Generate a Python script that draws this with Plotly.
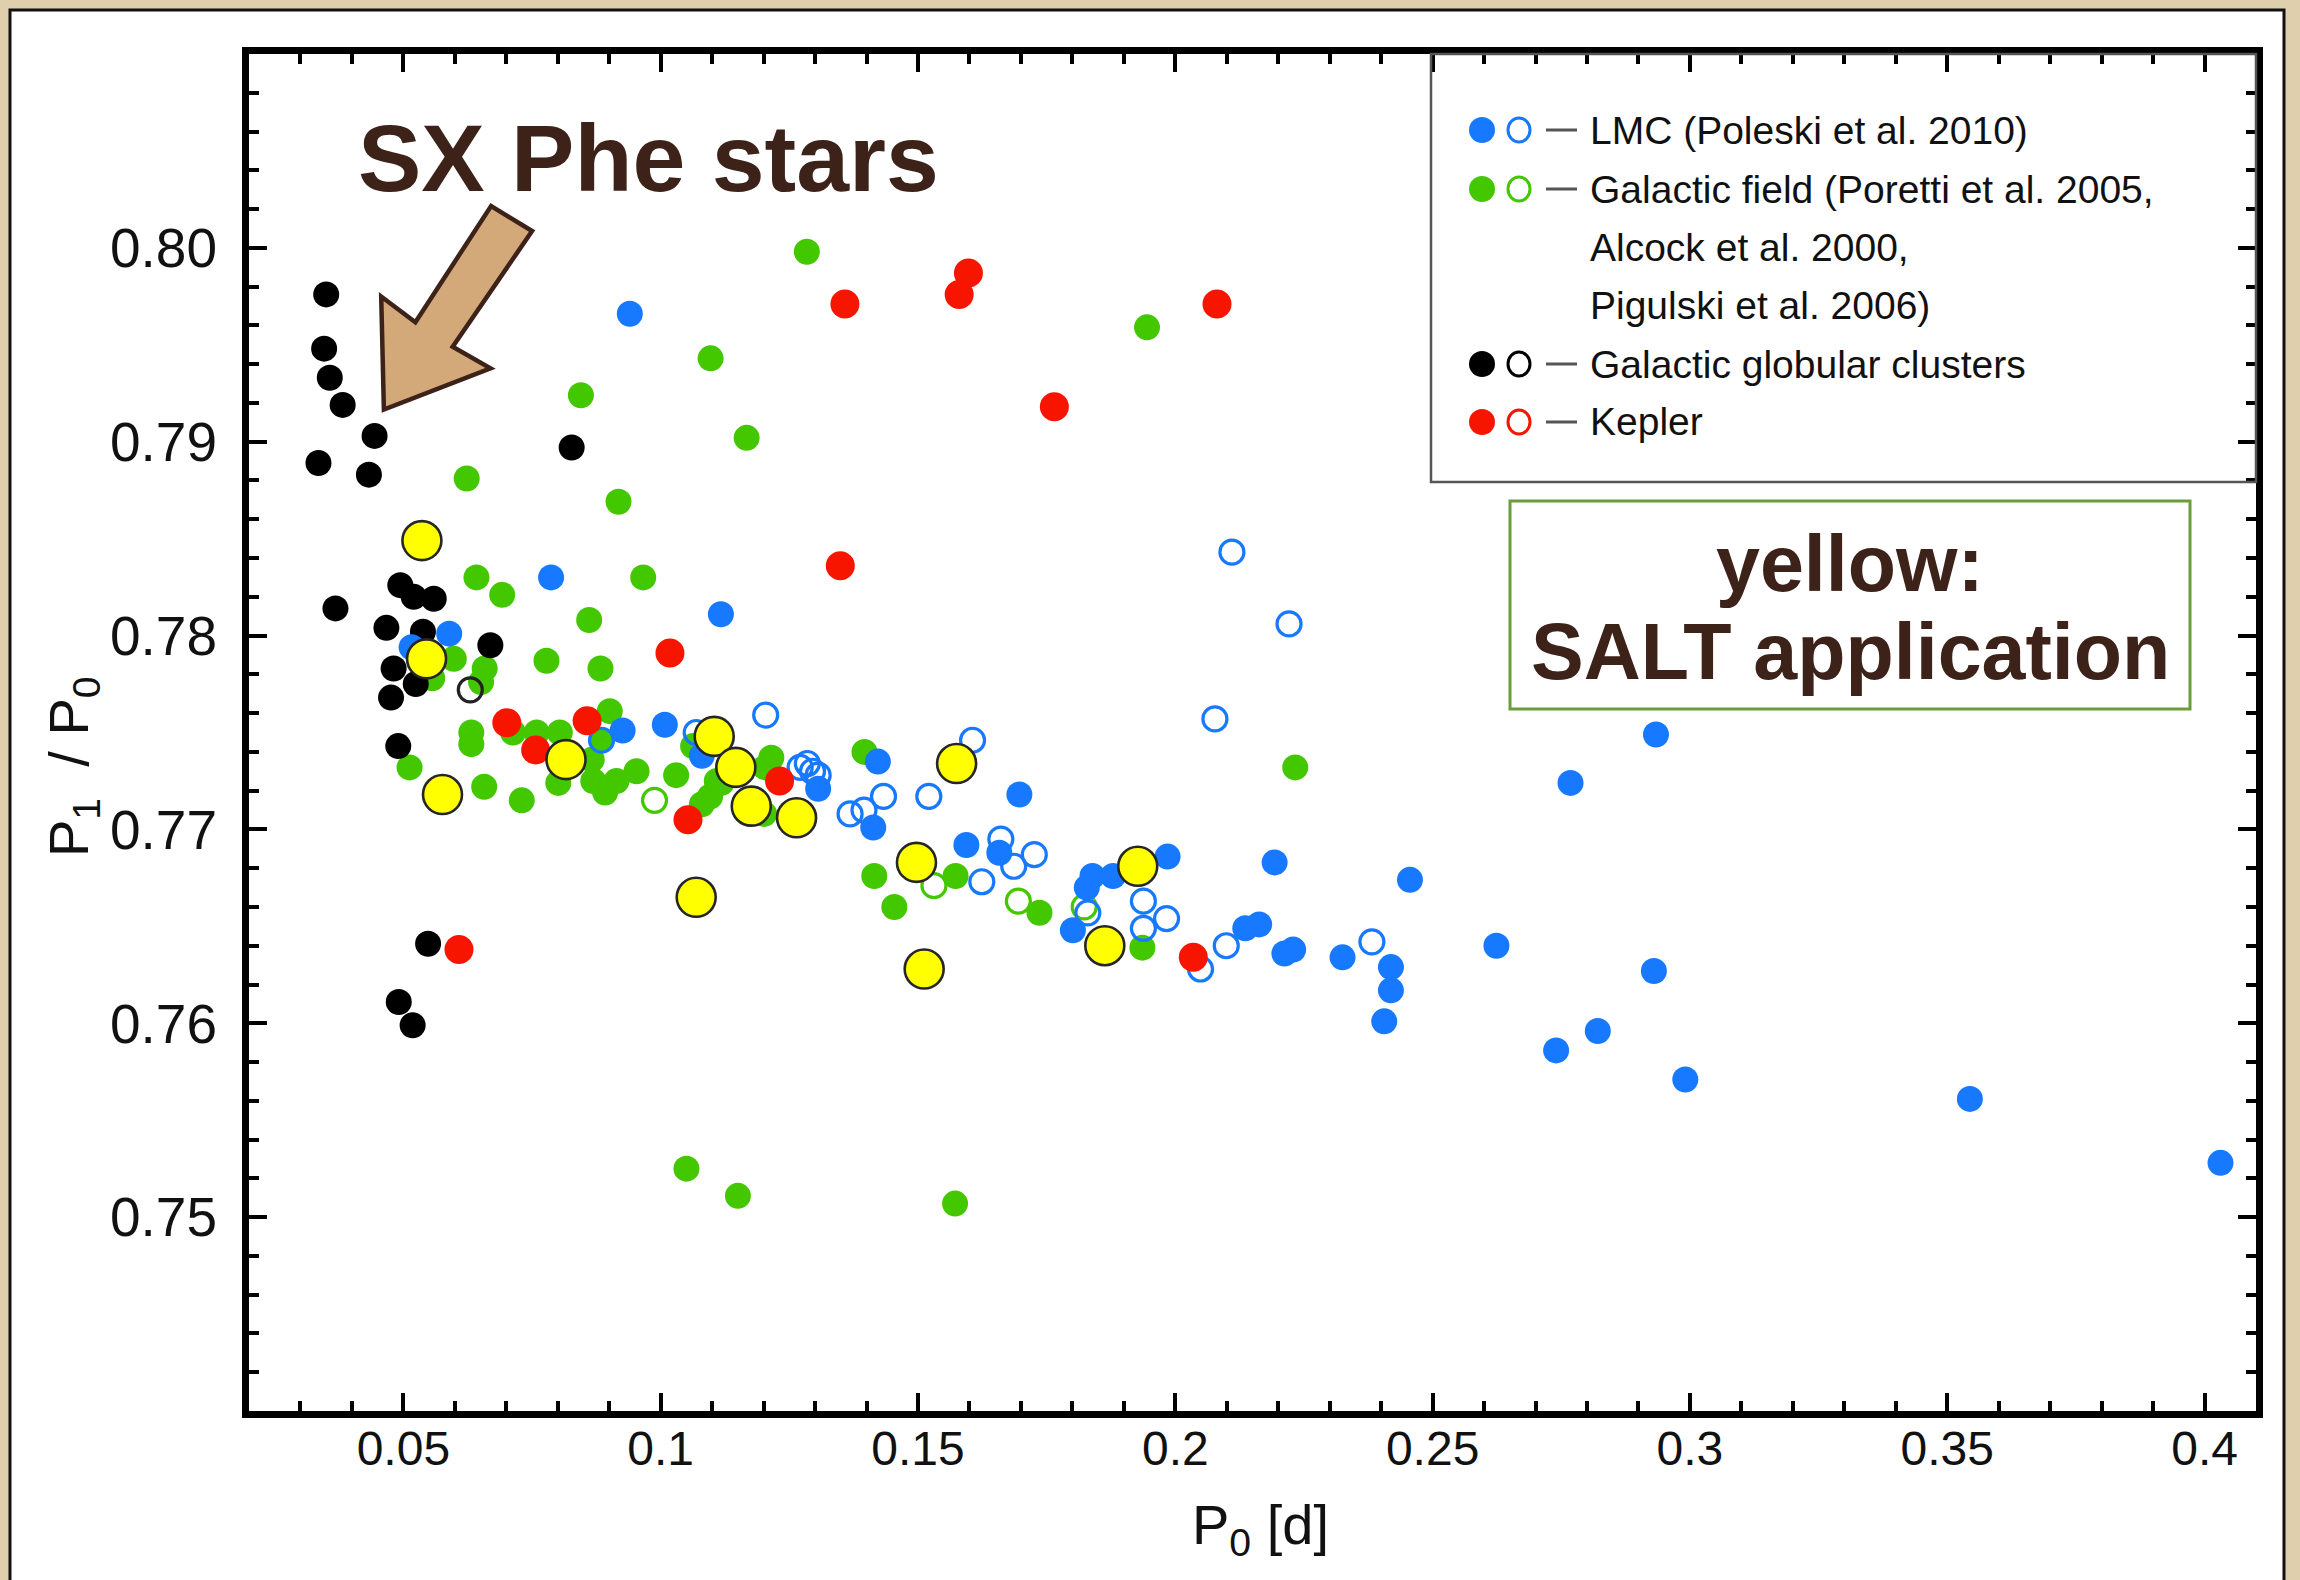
import plotly.graph_objects as go

# ---------------- data: P0 [d] and period ratio P1/P0 ----------------
# LMC (Poleski et al. 2010)
lmc_x = [0.0940, 0.0787, 0.1117, 0.0589, 0.0516, 0.0926, 0.1008, 0.1080, 0.1306, 0.1422,
         0.1413, 0.1697, 0.1594, 0.1658, 0.1985, 0.1839, 0.1879, 0.1828, 0.1801, 0.2193,
         0.2456, 0.2934, 0.2768, 0.2136, 0.2163, 0.2212, 0.2229, 0.2325, 0.2419, 0.2419,
         0.2624, 0.2930, 0.2406, 0.2740, 0.2821, 0.2991, 0.3544, 0.4031]
lmc_y = [0.7966, 0.7830, 0.7811, 0.7801, 0.7794, 0.7751, 0.7754, 0.7738, 0.7721, 0.7735,
         0.7701, 0.7718, 0.7692, 0.7688, 0.7686, 0.7676, 0.7676, 0.7670, 0.7648, 0.7683,
         0.7674, 0.7749, 0.7724, 0.7649, 0.7651, 0.7636, 0.7638, 0.7634, 0.7629, 0.7617,
         0.7640, 0.7627, 0.7601, 0.7586, 0.7596, 0.7571, 0.7561, 0.7528]
lmc_open_x = [0.1204, 0.1069, 0.1271, 0.1285, 0.1295, 0.1306, 0.1368, 0.1395, 0.1433, 0.1521,
              0.1606, 0.1661, 0.1686, 0.1726, 0.1624, 0.1830, 0.1938, 0.1983, 0.1938, 0.2077,
              0.2049, 0.2221, 0.2099, 0.2382, 0.2110, 0.0885]
lmc_open_y = [0.7759, 0.7750, 0.7732, 0.7734, 0.7730, 0.7728, 0.7708, 0.7710, 0.7717, 0.7717,
              0.7746, 0.7695, 0.7681, 0.7687, 0.7673, 0.7657, 0.7663, 0.7654, 0.7649, 0.7757,
              0.7628, 0.7806, 0.7640, 0.7642, 0.7843, 0.7746]

# Galactic field (Poretti et al. 2005, Alcock et al. 2000, Pigulski et al. 2006)
field_x = [0.1284, 0.1097, 0.1167, 0.1945, 0.0845, 0.0623, 0.0918, 0.0642, 0.0692, 0.0966,
           0.0861, 0.0598, 0.0658, 0.0651, 0.0778, 0.0883, 0.0632, 0.0632, 0.0713, 0.0759,
           0.0804, 0.0901, 0.0885, 0.0512, 0.0657, 0.0730, 0.0801, 0.0866, 0.0869, 0.0892,
           0.0914, 0.0953, 0.1030, 0.1063, 0.1096, 0.1109, 0.1080, 0.1203, 0.1215, 0.1118,
           0.1201, 0.1396, 0.1415, 0.1454, 0.1573, 0.1736, 0.1936, 0.2233, 0.1050, 0.1150,
           0.1572, 0.0556]
field_y = [0.7998, 0.7943, 0.7902, 0.7959, 0.7924, 0.7881, 0.7869, 0.7830, 0.7821, 0.7830,
           0.7808, 0.7788, 0.7783, 0.7776, 0.7787, 0.7783, 0.7750, 0.7744, 0.7750, 0.7750,
           0.7750, 0.7761, 0.7746, 0.7732, 0.7722, 0.7715, 0.7724, 0.7736, 0.7725, 0.7719,
           0.7725, 0.7730, 0.7728, 0.7743, 0.7717, 0.7725, 0.7713, 0.7732, 0.7737, 0.7724,
           0.7708, 0.7740, 0.7676, 0.7660, 0.7676, 0.7657, 0.7639, 0.7732, 0.7525, 0.7511,
           0.7507, 0.7778]
field_open_x = [0.0988, 0.1531, 0.1695, 0.1823]
field_open_y = [0.7715, 0.7671, 0.7663, 0.7660]

# Galactic globular clusters
gc_x = [0.0350, 0.0346, 0.0357, 0.0382, 0.0444, 0.0335, 0.0433, 0.0827, 0.0368, 0.0494,
        0.0520, 0.0559, 0.0467, 0.0538, 0.0669, 0.0481, 0.0524, 0.0476, 0.0490, 0.0548,
        0.0491, 0.0518]
gc_y = [0.7976, 0.7948, 0.7933, 0.7919, 0.7903, 0.7889, 0.7883, 0.7897, 0.7814, 0.7826,
        0.7820, 0.7819, 0.7804, 0.7802, 0.7795, 0.7783, 0.7775, 0.7768, 0.7743, 0.7641,
        0.7611, 0.7599]
gc_open_x = [0.0630]
gc_open_y = [0.7772]

# Kepler
kep_x = [0.1358, 0.1598, 0.1580, 0.2081, 0.1765, 0.1349, 0.1018, 0.0701, 0.0857, 0.0757,
         0.1053, 0.0608, 0.1231, 0.2035]
kep_y = [0.7971, 0.7987, 0.7976, 0.7971, 0.7918, 0.7836, 0.7791, 0.7755, 0.7756, 0.7741,
         0.7705, 0.7638, 0.7725, 0.7634]

# SALT targets
salt_x = [0.0536, 0.0545, 0.0576, 0.0816, 0.1104, 0.1146, 0.1176, 0.1264, 0.1069, 0.1575,
          0.1497, 0.1512, 0.1927, 0.1863]
salt_y = [0.7849, 0.7788, 0.7718, 0.7736, 0.7748, 0.7732, 0.7712, 0.7706, 0.7665, 0.7734,
          0.7683, 0.7628, 0.7681, 0.7640]

x_tickvals = [0.05, 0.10, 0.15, 0.20, 0.25, 0.30, 0.35, 0.40]
x_ticktext = ["0.05", "0.1", "0.15", "0.2", "0.25", "0.3", "0.35", "0.4"]
y_tickvals = [0.75, 0.76, 0.77, 0.78, 0.79, 0.80]
y_ticktext = ["0.75", "0.76", "0.77", "0.78", "0.79", "0.80"]

legend_rows = [
    ("LMC (Poleski et al. 2010)", "#1779ff"),
    ("Galactic field (Poretti et al. 2005,", "#43c800"),
    ("Alcock et al. 2000,", None),
    ("Pigulski et al. 2006)", None),
    ("Galactic globular clusters", "#000000"),
    ("Kepler", "#f81500"),
]

# ---------------- page geometry ----------------
W, H = 2300, 1580
ML, MR, MT, MB = 249, 44, 54, 169
BROWN = "#3d2219"


def px(x):
    return (x - ML) / (W - ML - MR)


def py(y):
    return 1 - (y - MT) / (H - MT - MB)


fig = go.Figure()

BLUE, GREEN, RED = "#1779ff", "#43c800", "#f81500"
S = 26


def filled(x, y, color, size=S):
    fig.add_trace(go.Scatter(x=x, y=y, mode="markers", showlegend=False, hoverinfo="skip",
                             marker=dict(size=size, color=color, line=dict(width=0))))


def hollow(x, y, color):
    fig.add_trace(go.Scatter(x=x, y=y, mode="markers", showlegend=False, hoverinfo="skip",
                             marker=dict(size=S - 2, symbol="circle-open", color=color,
                                         line=dict(width=3.2, color=color))))


filled(field_x, field_y, GREEN)
hollow(field_open_x, field_open_y, GREEN)
filled(gc_x, gc_y, "#000000")
hollow(gc_open_x, gc_open_y, "#222222")
hollow(lmc_open_x, lmc_open_y, BLUE)
filled(lmc_x, lmc_y, BLUE)
filled(kep_x, kep_y, RED, size=29)
fig.add_trace(go.Scatter(x=salt_x, y=salt_y, mode="markers", showlegend=False, hoverinfo="skip",
                         marker=dict(size=39, color="#ffff00",
                                     line=dict(width=2.6, color="#262626"))))

shapes = []
annotations = []

# white panel behind the figure
shapes.append(dict(type="rect", xref="paper", yref="paper", layer="below",
                   x0=px(10), x1=px(2284), y0=py(10), y1=py(1600),
                   fillcolor="white", line=dict(color="#111111", width=3)))

# legend box
shapes.append(dict(type="rect", xref="paper", yref="paper", layer="above",
                   x0=px(1431), x1=px(2256), y0=py(54), y1=py(482),
                   line=dict(color="#555555", width=2.5)))
row_y = [130, 189, 247, 305, 364, 422]
for (label, color), ry in zip(legend_rows, row_y):
    if color is not None:
        shapes.append(dict(type="circle", xref="paper", yref="paper", layer="above",
                           xsizemode="pixel", ysizemode="pixel",
                           xanchor=px(1482), yanchor=py(ry), x0=-13, x1=13, y0=-13, y1=13,
                           fillcolor=color, line=dict(width=0)))
        shapes.append(dict(type="circle", xref="paper", yref="paper", layer="above",
                           xsizemode="pixel", ysizemode="pixel",
                           xanchor=px(1519), yanchor=py(ry), x0=-11, x1=11, y0=-12, y1=12,
                           fillcolor="rgba(0,0,0,0)", line=dict(width=3, color=color)))
        shapes.append(dict(type="line", xref="paper", yref="paper", layer="above",
                           x0=px(1546), x1=px(1577), y0=py(ry), y1=py(ry),
                           line=dict(width=3, color="#555555")))
    annotations.append(dict(xref="paper", yref="paper", x=px(1588), y=py(ry),
                            xanchor="left", yanchor="middle", showarrow=False, text=label,
                            font=dict(family="Liberation Sans", size=39, color="#111111")))

# SALT note box
shapes.append(dict(type="rect", xref="paper", yref="paper", layer="above",
                   x0=px(1510), x1=px(2190), y0=py(501), y1=py(709),
                   fillcolor="white", line=dict(color="#6a9d3c", width=3)))
annotations.append(dict(xref="paper", yref="paper", x=px(1850), y=py(563),
                        xanchor="center", yanchor="middle", showarrow=False, text="yellow:",
                        font=dict(family="Liberation Sans", size=79, color=BROWN, weight="bold")))
annotations.append(dict(xref="paper", yref="paper", x=px(1850), y=py(652),
                        xanchor="center", yanchor="middle", showarrow=False,
                        text="SALT application",
                        font=dict(family="Liberation Sans", size=79, color=BROWN, weight="bold")))

# "SX Phe stars" label and block arrow
annotations.append(dict(xref="paper", yref="paper", x=px(648), y=py(158),
                        xanchor="center", yanchor="middle", showarrow=False,
                        text="SX Phe stars",
                        font=dict(family="Liberation Sans", size=95, color=BROWN, weight="bold")))
arrow_pts = [(383.9, 409.5), (381.2, 296.5), (415.4, 322.2), (491.1, 206), (532.1, 231),
             (452.7, 346.7), (490.5, 368.3)]
path = "M " + " L ".join(f"{px(a):.5f},{py(b):.5f}" for a, b in arrow_pts) + " Z"
shapes.append(dict(type="path", xref="paper", yref="paper", layer="above", path=path,
                   fillcolor="#d3a97a", line=dict(color=BROWN, width=4.5)))

# axis titles
annotations.append(dict(xref="paper", yref="paper", x=px(1260), y=py(1528),
                        xanchor="center", yanchor="middle", showarrow=False,
                        text="P<sub>0</sub> [d]",
                        font=dict(family="Liberation Sans", size=56, color="#111111")))
annotations.append(dict(xref="paper", yref="paper", x=px(72), y=py(767),
                        xanchor="center", yanchor="middle", showarrow=False, textangle=-90,
                        text="P<sub>1</sub>  / P<sub>0</sub>",
                        font=dict(family="Liberation Sans", size=56, color="#111111")))

axis_common = dict(showline=True, linewidth=7, linecolor="black", mirror="allticks",
                   ticks="inside", ticklen=18, tickwidth=4, tickcolor="black",
                   showgrid=False, zeroline=False, tickmode="array")

fig.update_layout(
    width=W, height=H,
    margin=dict(l=ML, r=MR, t=MT, b=MB, pad=0),
    paper_bgcolor="#dfcfac",
    plot_bgcolor="white",
    showlegend=False,
    shapes=shapes,
    annotations=annotations,
    xaxis=dict(range=[0.02, 0.41], tickvals=x_tickvals, ticktext=x_ticktext,
               ticklabelstandoff=-11,
               tickfont=dict(family="Liberation Sans", size=48, color="#111111"),
               minor=dict(ticks="inside", ticklen=10, tickwidth=4, tickcolor="black",
                          tickmode="linear", tick0=0.0, dtick=0.01),
               **axis_common),
    yaxis=dict(range=[0.74, 0.81], tickvals=y_tickvals, ticktext=y_ticktext,
               ticklabelstandoff=14,
               tickfont=dict(family="Liberation Sans", size=55, color="#111111"),
               minor=dict(ticks="inside", ticklen=10, tickwidth=4, tickcolor="black",
                          tickmode="linear", tick0=0.74, dtick=0.002),
               **axis_common),
)

fig.write_html("out.html")
